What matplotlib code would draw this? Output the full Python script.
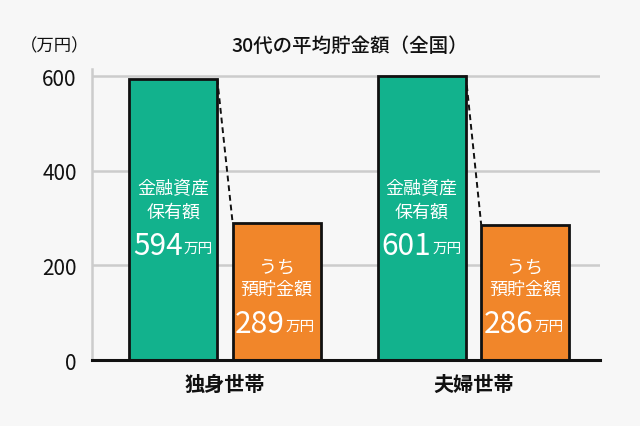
import matplotlib
matplotlib.use("Agg")
import matplotlib.pyplot as plt
import numpy as np

plt.rcParams['font.family'] = ['Noto Sans CJK JP', 'DejaVu Sans']

categories = ['独身世帯', '夫婦世帯']
assets = [594, 601]      # 金融資産保有額
savings = [289, 286]     # うち預貯金額
yticks = [0, 200, 400, 600]
title = '30代の平均貯金額（全国）'
unit_label = '（万円）'

BG = '#f7f7f7'
GREEN = '#12b28d'
ORANGE = '#f1862a'

fig = plt.figure(figsize=(6.4, 4.27), dpi=100, facecolor=BG)
ax = fig.add_axes([92/640, 1-361/427, 508/640, (361-70)/427])
ax.set_facecolor(BG)

x = np.arange(len(categories))
off = 0.208
w = 0.354

ax.set_xlim(-0.535, 1.509)
ax.set_ylim(0, 615)

for yv in yticks[1:]:
    ax.axhline(yv, color='#cccccc', lw=1.8, zorder=0)

ax.bar(x - off, assets, w, color=GREEN, edgecolor='#111111', lw=2, zorder=3)
ax.bar(x + off, savings, w, color=ORANGE, edgecolor='#111111', lw=2, zorder=3)

for i in range(len(categories)):
    ax.plot([x[i] - off + w/2, x[i] + off - w/2], [assets[i], savings[i]],
            ls=(0, (3, 2)), color='#111111', lw=1.4, zorder=2)
    gx = x[i] - off
    ox = x[i] + off
    ax.text(gx, 364, '金融資産', ha='center', va='center', color='white', fontsize=13, zorder=4)
    ax.text(gx, 314, '保有額', ha='center', va='center', color='white', fontsize=13, zorder=4)
    ax.annotate(str(assets[i]), (gx, 243), xytext=(7, 0), textcoords='offset points',
                ha='right', va='center', color='white', fontsize=21.5, zorder=4)
    ax.annotate('万円', (gx, 237), xytext=(7.5, 0), textcoords='offset points',
                ha='left', va='center', color='white', fontsize=10.5, zorder=4)
    ax.text(ox, 197, 'うち', ha='center', va='center', color='white', fontsize=13, zorder=4)
    ax.text(ox, 151, '預貯金額', ha='center', va='center', color='white', fontsize=13, zorder=4)
    ax.annotate(str(savings[i]), (ox, 78), xytext=(6, 0), textcoords='offset points',
                ha='right', va='center', color='white', fontsize=21.5, zorder=4)
    ax.annotate('万円', (ox, 72), xytext=(6.5, 0), textcoords='offset points',
                ha='left', va='center', color='white', fontsize=10.5, zorder=4)

ax.set_yticks(yticks)
ax.set_yticklabels([str(v) for v in yticks], fontsize=15, color='#111111')
ax.set_xticks(x)
ax.set_xticklabels(categories, fontsize=14.5, fontweight='bold', color='#111111')
ax.tick_params(axis='y', length=0, pad=11)
ax.tick_params(axis='x', length=0, pad=9)

for s in ['top', 'right']:
    ax.spines[s].set_visible(False)
ax.spines['left'].set_color('#cccccc')
ax.spines['left'].set_linewidth(1.8)
ax.spines['bottom'].set_color('#111111')
ax.spines['bottom'].set_linewidth(2.2)
ax.spines['bottom'].set_zorder(5)

fig.text(350/640, 1-46/427, title, ha='center', va='center', fontsize=14,
         fontweight='medium', color='#111111')
fig.text(55/640, 1-46/427, unit_label, ha='center', va='center', fontsize=12.5,
         color='#111111')

fig.savefig('out.png', dpi=100, facecolor=BG)
